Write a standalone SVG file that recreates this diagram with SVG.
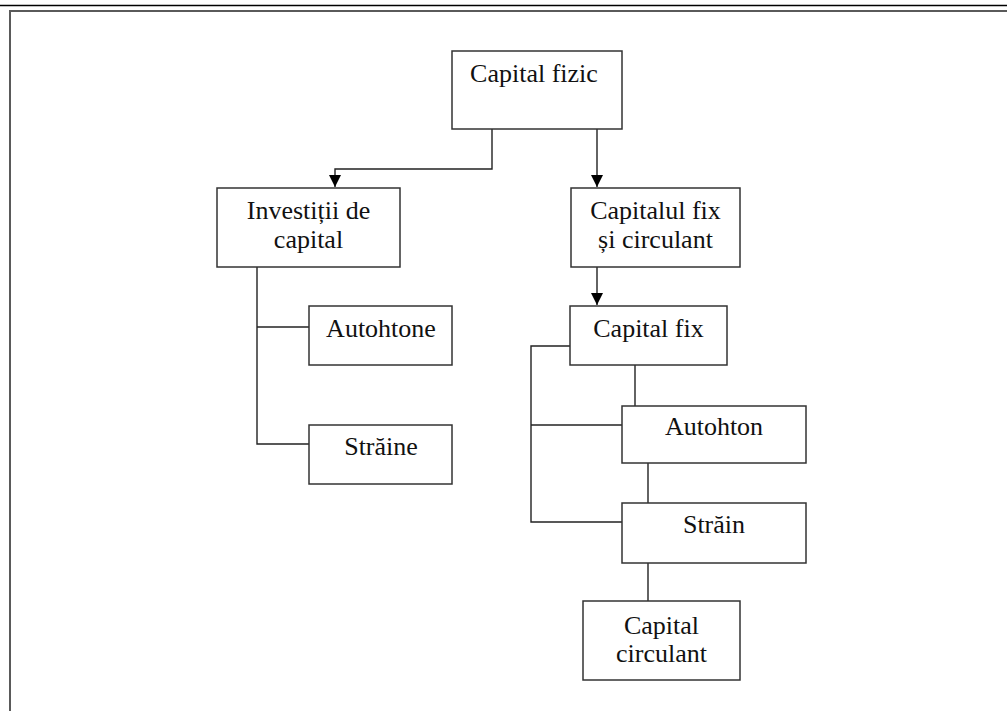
<svg xmlns="http://www.w3.org/2000/svg" width="1007" height="711" viewBox="0 0 1007 711">
<style>
.box{fill:#fff;stroke:#333;stroke-width:1.5}
.lbl{font-family:"Liberation Serif","Times New Roman",serif;font-size:26px;fill:#111;text-anchor:middle}
.con{fill:none;stroke:#222;stroke-width:1.4}
</style>
<defs>
<marker id="arr" viewBox="0 0 12 12" refX="12" refY="6" markerWidth="12" markerHeight="12" markerUnits="userSpaceOnUse" orient="auto">
<path d="M0,0 L12,6 L0,12 Z" fill="#000"/>
</marker>
</defs>
<rect width="1007" height="711" fill="#fff"/>
<line x1="0" y1="5.5" x2="1007" y2="5.5" stroke="#000" stroke-width="1.5"/>
<rect x="10" y="11" width="1010" height="720" fill="none" stroke="#5a5a5a" stroke-width="2"/>
<g id="connectors">
<path class="con" d="M492,129 V169 H335 V187" marker-end="url(#arr)"/>
<path class="con" d="M597,129 V187" marker-end="url(#arr)"/>
<path class="con" d="M597,267 V305" marker-end="url(#arr)"/>
<path class="con" d="M257,267 V444 H309"/>
<path class="con" d="M257,327 H309"/>
<path class="con" d="M570,346 H531 V522 H622"/>
<path class="con" d="M531,425 H622"/>
<path class="con" d="M635,365 V406"/>
<path class="con" d="M648,463 V503"/>
<path class="con" d="M648,563 V601"/>
</g>
<g id="capital-fizic">
<rect class="box" x="452" y="51" width="170" height="78"/>
<text class="lbl" x="534" y="82">Capital fizic</text>
</g>
<g id="investitii">
<rect class="box" x="217" y="188" width="183" height="79"/>
<text class="lbl" x="308.5" y="219">Investiții de</text>
<text class="lbl" x="308.5" y="248">capital</text>
</g>
<g id="capitalul-fix-circulant">
<rect class="box" x="571" y="188" width="169" height="79"/>
<text class="lbl" x="655.5" y="219">Capitalul fix</text>
<text class="lbl" x="655.5" y="248">și circulant</text>
</g>
<g id="autohtone">
<rect class="box" x="309" y="306" width="143" height="59"/>
<text class="lbl" x="381" y="337">Autohtone</text>
</g>
<g id="straine">
<rect class="box" x="309" y="425" width="143" height="59"/>
<text class="lbl" x="381" y="455">Străine</text>
</g>
<g id="capital-fix">
<rect class="box" x="570" y="306" width="157" height="59"/>
<text class="lbl" x="648.5" y="337">Capital fix</text>
</g>
<g id="autohton">
<rect class="box" x="622" y="406" width="184" height="57"/>
<text class="lbl" x="714" y="435">Autohton</text>
</g>
<g id="strain">
<rect class="box" x="622" y="503" width="184" height="60"/>
<text class="lbl" x="714" y="533">Străin</text>
</g>
<g id="capital-circulant">
<rect class="box" x="583" y="601" width="157" height="79"/>
<text class="lbl" x="661.5" y="634">Capital</text>
<text class="lbl" x="661.5" y="662">circulant</text>
</g>
</svg>
